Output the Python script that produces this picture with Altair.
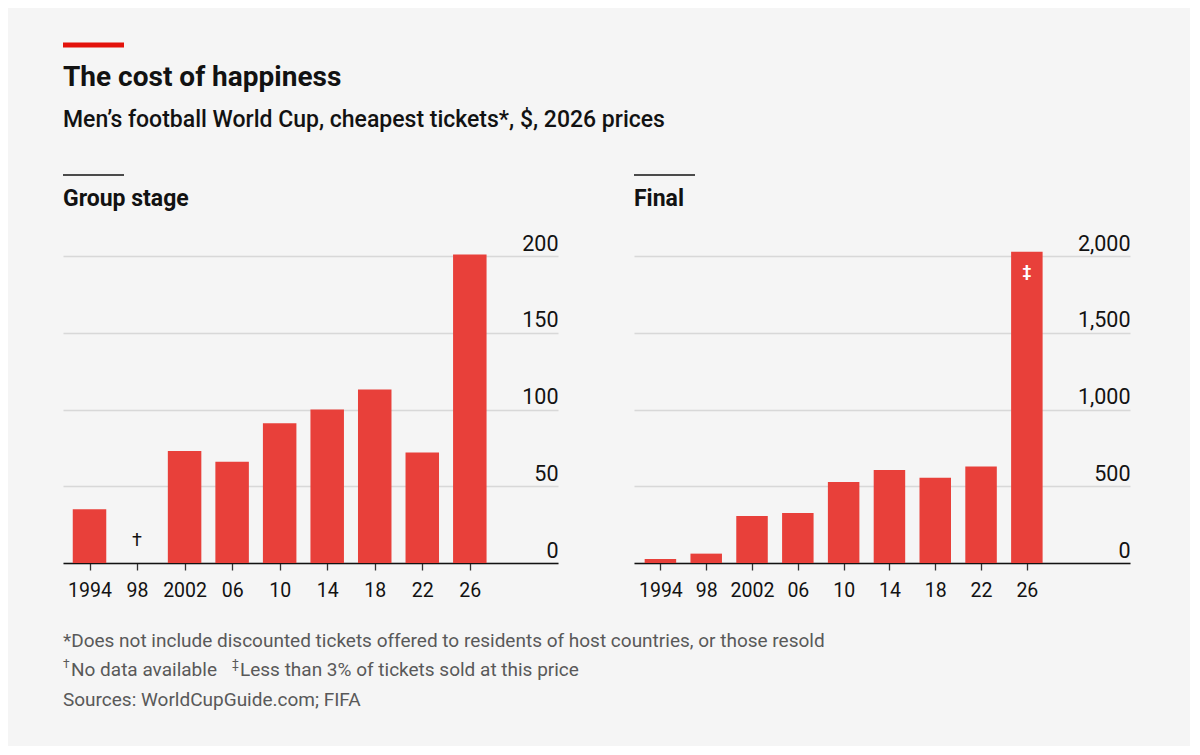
import altair as alt
import pandas as pd

# ---------------- data ----------------
years = [1994, 1998, 2002, 2006, 2010, 2014, 2018, 2022, 2026]
group_stage = [35, None, 73, 66, 91, 100, 113, 72, 201]
final = [26, 61, 306, 326, 528, 606, 556, 628, 2028]
tick_labels = ["1994", "98", "2002", "06", "10", "14", "18", "22", "26"]
group_ticks = [0, 50, 100, 150, 200]
final_ticks = [0, 500, 1000, 1500, 2000]

title_text = "The cost of happiness"
subtitle_text = "Men\u2019s football World Cup, cheapest tickets*, $, 2026 prices"
panel_titles = ["Group stage", "Final"]
note1 = "*Does not include discounted tickets offered to residents of host countries, or those resold"
note2a = "No data available"
note2b = "Less than 3% of tickets sold at this price"
source = "Sources: WorldCupGuide.com; FIFA"

RED = "#E8403A"
BG = "#f5f5f5"
INK = "#121212"
GREY = "#595959"
W, H = 495, 307
FONT = "Roboto"

df_g = pd.DataFrame({"year": years, "value": group_stage, "label": tick_labels})
df_g_valid = df_g.dropna()
df_g_missing = df_g[df_g["value"].isna()][["year"]]
df_f = pd.DataFrame({"year": years, "value": final, "label": tick_labels})
df_f_last = df_f.tail(1)

label_expr = ("datum.value == 1994 || datum.value == 2002 ? '' + datum.value : "
              "substring('' + datum.value, 2, 4)")


def x_axis():
    return alt.Axis(values=years, labelExpr=label_expr, title=None, grid=False,
                    domainColor=INK, domainWidth=1.6, tickColor="#333333",
                    tickSize=7, tickWidth=1.3, labelFontSize=19.5, labelPadding=11,
                    labelColor=INK, labelFlush=False, labelFont=FONT)


def y_axis(vals, fmt):
    return alt.Axis(orient="right", values=vals, format=fmt, title=None,
                    domain=False, ticks=False, tickSize=0, labelAlign="right",
                    labelBaseline="alphabetic", labelOffset=-6, labelPadding=0,
                    labelFontSize=21.5, labelColor=INK, gridColor="#d8d8d8",
                    gridWidth=1.5, labelFlush=False, labelBound=False,
                    labelFont=FONT)


def one(text):
    return alt.Chart(pd.DataFrame({"t": [text]}))


def text_mark(text, x, y, size, weight="normal", color=INK, align="left"):
    return one(text).mark_text(align=align, baseline="alphabetic", fontSize=size,
                               fontWeight=weight, color=color, font=FONT).encode(
        text="t:N", x=alt.value(x), y=alt.value(y))


def rule(x1, x2, y, color, width):
    return one("r").mark_rule(color=color, strokeWidth=width, strokeCap="butt").encode(
        x=alt.value(x1), x2=alt.value(x2), y=alt.value(y))


# ---------------- left panel ----------------
xg = alt.X("year:Q", scale=alt.Scale(domain=[1992.19, 2033.0], nice=False, zero=False),
           axis=x_axis())
yg = alt.Y("value:Q", scale=alt.Scale(domain=[0, 200], nice=False), axis=y_axis(group_ticks, "d"))

bars_g = alt.Chart(df_g_valid).mark_bar(color=RED, width=33.5).encode(x=xg, y=yg)
dagger_g = alt.Chart(df_g_missing).mark_text(text="\u2020", fontSize=18, color=INK,
                                             baseline="alphabetic", font=FONT).encode(
    x=alt.X("year:Q"), y=alt.value(290))

left = alt.layer(
    bars_g,
    dagger_g,
    rule(0, 61, -211, "#E3120B", 5),
    text_mark(title_text, 0, -170, 28, "bold"),
    text_mark(subtitle_text, 0, -129, 23, 500),
    rule(0, 61, -81, INK, 1.5),
    text_mark(panel_titles[0], 0, -50, 23, "bold"),
    text_mark(note1, 0, 391, 19, color=GREY),
    text_mark("\u2020", 0, 412, 12, color=GREY),
    text_mark(note2a, 8, 420, 19, color=GREY),
    text_mark("\u2021", 169, 412, 12, color=GREY),
    text_mark(note2b, 177, 420, 19, color=GREY),
    text_mark(source, 0, 450, 19, color=GREY),
).properties(width=W, height=H)

# ---------------- right panel ----------------
xf = alt.X("year:Q", scale=alt.Scale(domain=[1992.13, 2034.57], nice=False, zero=False),
           axis=x_axis())
yf = alt.Y("value:Q", scale=alt.Scale(domain=[0, 2000], nice=False), axis=y_axis(final_ticks, ",d"))

bars_f = alt.Chart(df_f).mark_bar(color=RED, width=31.5).encode(x=xf, y=yf)
dagger_f = alt.Chart(df_f_last).mark_text(text="\u2021", fontSize=16, color="white",
                                          baseline="middle", dy=20, font=FONT,
                                          fontWeight="bold").encode(
    x=alt.X("year:Q"), y=alt.Y("value:Q"))

right = alt.layer(
    bars_f,
    dagger_f,
    rule(0, 61, -81, INK, 1.5),
    text_mark(panel_titles[1], 0, -50, 23, "bold"),
).properties(width=W + 1, height=H)

chart = alt.hconcat(left, right, spacing=76, bounds="flush").properties(
    padding={"left": 52, "top": 34, "right": 60, "bottom": 36},
    background=BG,
).configure(font=FONT).configure_view(stroke=None, strokeWidth=0)

chart.save("out.html", embed_options={"renderer": "svg", "actions": False})
